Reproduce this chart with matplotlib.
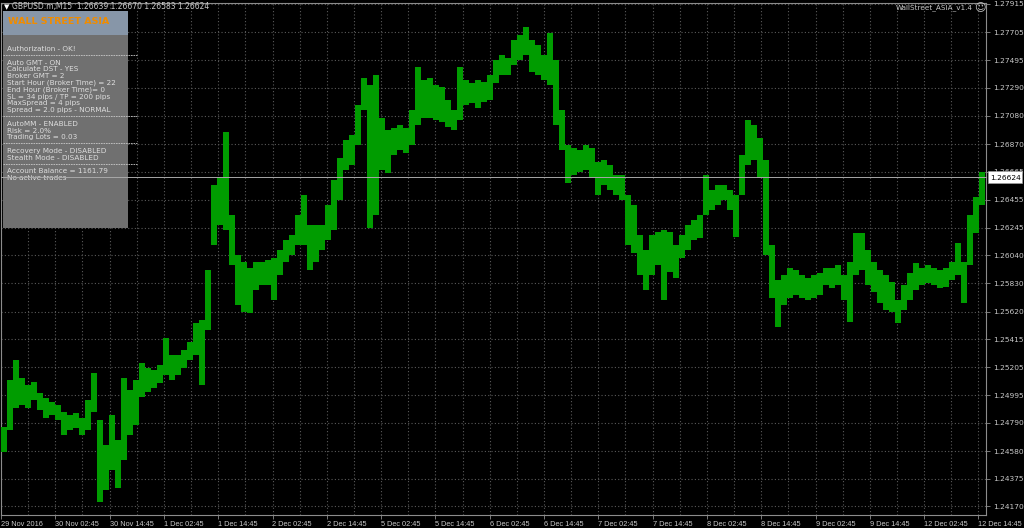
import numpy as np
import matplotlib.pyplot as plt
import matplotlib.transforms as mtransforms
from matplotlib.patches import Rectangle
from matplotlib.lines import Line2D

# GBPUSD M15, high / low per small group of bars
highs = [
    1.24760, 1.25110, 1.25259, 1.25125, 1.25073, 1.25095, 1.25014, 1.24976, 1.24946, 1.24924,
    1.24871, 1.24849, 1.24864, 1.24826, 1.24961, 1.25163, 1.24812, 1.24626, 1.24849, 1.24663,
    1.25125, 1.25036, 1.25110, 1.25237, 1.25199, 1.25185, 1.25222, 1.25423, 1.25297, 1.25297,
    1.25334, 1.25394, 1.25536, 1.25558, 1.25931, 1.26565, 1.26625, 1.26960, 1.26341, 1.26043,
    1.25990, 1.25946, 1.25990, 1.25990, 1.26005, 1.26020, 1.26080, 1.26155, 1.26192, 1.26341,
    1.26491, 1.26267, 1.26267, 1.26267, 1.26416, 1.26602, 1.26766, 1.26901, 1.26938, 1.27162,
    1.27363, 1.27311, 1.27386, 1.27064, 1.26975, 1.26990, 1.27013, 1.26990, 1.27124, 1.27445,
    1.27348, 1.27363, 1.27311, 1.27296, 1.27199, 1.27124, 1.27445, 1.27348, 1.27326, 1.27348,
    1.27333, 1.27386, 1.27497, 1.27535, 1.27512, 1.27647, 1.27684, 1.27744, 1.27647, 1.27610,
    1.27535, 1.27699, 1.27497, 1.27124, 1.26864, 1.26841, 1.26826, 1.26864, 1.26841, 1.26736,
    1.26751, 1.26714, 1.26640, 1.26640, 1.26491, 1.26416, 1.26192, 1.26080, 1.26192, 1.26214,
    1.26229, 1.26214, 1.26118, 1.26192, 1.26267, 1.26304, 1.26341, 1.26640, 1.26528, 1.26565,
    1.26565, 1.26528, 1.26491, 1.26789, 1.27050, 1.27013, 1.26915, 1.26751, 1.26118, 1.25856,
    1.25894, 1.25946, 1.25931, 1.25894, 1.25871, 1.25894, 1.25909, 1.25946, 1.25946, 1.25968,
    1.25894, 1.25990, 1.26207, 1.26207, 1.26080, 1.25990, 1.25931, 1.25894, 1.25841, 1.25707,
    1.25819, 1.25909, 1.25983, 1.25946, 1.25968, 1.25946, 1.25931, 1.25946, 1.25990, 1.26132,
    1.25990, 1.26341, 1.26476, 1.26662,
]
lows = [
    1.24573, 1.24737, 1.24901, 1.24924, 1.24901, 1.24961, 1.24886, 1.24826, 1.24849, 1.24812,
    1.24700, 1.24737, 1.24752, 1.24700, 1.24737, 1.24871, 1.24200, 1.24290, 1.24439, 1.24304,
    1.24513, 1.24700, 1.24775, 1.24984, 1.25021, 1.25050, 1.25088, 1.25148, 1.25110, 1.25148,
    1.25199, 1.25259, 1.25297, 1.25073, 1.25483, 1.26118, 1.26267, 1.26229, 1.25968, 1.25670,
    1.25617, 1.25610, 1.25782, 1.25819, 1.25819, 1.25707, 1.25894, 1.25990, 1.26043, 1.26118,
    1.26118, 1.25931, 1.25990, 1.26080, 1.26155, 1.26229, 1.26453, 1.26677, 1.26714, 1.26864,
    1.27124, 1.26244, 1.26341, 1.26677, 1.26655, 1.26789, 1.26826, 1.26804, 1.26864, 1.27013,
    1.27064, 1.27064, 1.27050, 1.27035, 1.26998, 1.26975, 1.27050, 1.27162, 1.27177, 1.27139,
    1.27184, 1.27199, 1.27326, 1.27386, 1.27386, 1.27460, 1.27497, 1.27535, 1.27408, 1.27386,
    1.27348, 1.27311, 1.27013, 1.26826, 1.26580, 1.26640, 1.26662, 1.26677, 1.26617, 1.26491,
    1.26565, 1.26528, 1.26491, 1.26453, 1.26118, 1.26058, 1.25894, 1.25782, 1.25894, 1.25968,
    1.25707, 1.25916, 1.25871, 1.26020, 1.26080, 1.26155, 1.26169, 1.26341, 1.26378, 1.26416,
    1.26453, 1.26378, 1.26177, 1.26491, 1.26714, 1.26751, 1.26617, 1.26043, 1.25722, 1.25506,
    1.25670, 1.25722, 1.25745, 1.25722, 1.25707, 1.25722, 1.25745, 1.25819, 1.25797, 1.25819,
    1.25707, 1.25543, 1.25894, 1.25931, 1.25819, 1.25767, 1.25685, 1.25632, 1.25617, 1.25536,
    1.25632, 1.25707, 1.25782, 1.25819, 1.25834, 1.25819, 1.25797, 1.25804, 1.25856, 1.25894,
    1.25685, 1.25968, 1.26207, 1.26416,
]

price_levels = [1.27915, 1.27705, 1.27495, 1.27290, 1.27080, 1.26870, 1.26665, 1.26455,
                1.26245, 1.26040, 1.25830, 1.25620, 1.25415, 1.25205, 1.24995, 1.24790,
                1.24580, 1.24375, 1.24170]

time_labels = ["29 Nov 2016", "30 Nov 02:45", "30 Nov 14:45", "1 Dec 02:45", "1 Dec 14:45",
               "2 Dec 02:45", "2 Dec 14:45", "5 Dec 02:45", "5 Dec 14:45", "6 Dec 02:45",
               "6 Dec 14:45", "7 Dec 02:45", "7 Dec 14:45", "8 Dec 02:45", "8 Dec 14:45",
               "9 Dec 02:45", "9 Dec 14:45", "12 Dec 02:45", "12 Dec 14:45"]

bid = 1.26624
header = "GBPUSD.m,M15  1.26639 1.26670 1.26583 1.26624"
ea_name = "WallStreet_ASIA_v1.4"

panel_title = "WALL STREET ASIA"
panel_blocks = [
    ["Authorization - OK!"],
    ["Auto GMT - ON", "Calculate DST - YES", "Broker GMT = 2",
     "Start Hour (Broker Time) = 22", "End Hour (Broker Time)= 0",
     "SL = 34 pips / TP = 200 pips", "MaxSpread = 4 pips", "Spread = 2.0 pips - NORMAL"],
    ["AutoMM - ENABLED", "Risk = 2.0%", "Trading Lots = 0.03"],
    ["Recovery Mode - DISABLED", "Stealth Mode - DISABLED"],
    ["Account Balance = 1161.79", "No active trades"],
]

W, H = 1024, 528
fig = plt.figure(figsize=(W / 100, H / 100), dpi=100, facecolor='black')
plt.rcParams['font.family'] = ['DejaVu Sans']

def fx(x):
    return x / W

def fy(y):
    return 1 - y / H

txt = '#c8c8c8'
grid_c = '#5a5a5a'
spine_c = '#8c8c8c'

ax = fig.add_axes([fx(1), fy(515), fx(986) - fx(1), fy(3) - fy(515)])
ax.set_facecolor('black')

idx = np.arange(len(highs))
hi = np.array(highs)
lo = np.array(lows)
ax.bar(idx, hi - lo, bottom=lo, width=1.0, color='#009c00', linewidth=0, zorder=3)

px_per_bar = 6.0
step = 54.3 / px_per_bar
major = -0.5 + step * np.arange(len(time_labels))
minor = -0.5 + step / 2 * np.arange(2 * len(time_labels) - 1)
ax.set_xticks(major)
ax.set_xticklabels(time_labels, ha='left', family='Liberation Sans')
ax.set_xticks(minor, minor=True)
ax.set_yticks(price_levels)
ax.set_yticklabels([f"{v:.5f}" for v in price_levels])
ax.yaxis.tick_right()
# limits after the ticks so they are not widened
ax.set_xlim(-0.5, -0.5 + 985 / px_per_bar)
ax.set_ylim(1.24103, 1.27922)

ax.grid(True, which='both', axis='x', color=grid_c, linestyle=(0, (1, 2)), linewidth=0.8, zorder=1)
ax.grid(True, which='major', axis='y', color=grid_c, linestyle=(0, (1, 2)), linewidth=0.8, zorder=1)
ax.set_axisbelow(True)

ax.tick_params(axis='x', which='major', colors=spine_c, labelcolor=txt, labelsize=5.3,
               length=3, width=0.6, pad=1.5)
ax.tick_params(axis='x', which='minor', length=0)
ax.tick_params(axis='y', colors=spine_c, labelcolor=txt, labelsize=5.4, length=3,
               width=0.6, pad=2)
for s in ax.spines.values():
    s.set_color(spine_c)
    s.set_linewidth(0.8)

# bid line, drawn above the info panel like in the terminal
blend = mtransforms.blended_transform_factory(fig.transFigure, ax.transData)
fig.add_artist(Line2D([fx(1), fx(986)], [bid, bid], transform=blend,
                      color='#a8a8a8', linewidth=0.7, zorder=8))

# price box on the scale
fig.add_artist(Rectangle((fx(988), fy(183)), fx(1022) - fx(988), fy(171) - fy(183),
                         transform=fig.transFigure, facecolor='white', edgecolor='#a0a0a0',
                         linewidth=0.5, zorder=9))
fig.text(fx(990), fy(177.5), f"{bid:.5f}", color='black', fontsize=5.4, va='center',
         ha='left', zorder=10)

# top texts
fig.text(fx(4), fy(7), '▼', color='white', fontsize=5, va='center', ha='left')
fig.text(fx(12), fy(7), header, color=txt, fontsize=5.5, va='center', ha='left')
fig.text(fx(973), fy(8), ea_name, color=txt, fontsize=5.2, va='center', ha='right')
fig.text(fx(980), fy(8), '☺', color=txt, fontsize=8, va='center', ha='center')

# info panel
fig.add_artist(Rectangle((fx(3), fy(228)), fx(128) - fx(3), fy(11) - fy(228),
                         transform=fig.transFigure, facecolor='#707070', edgecolor='none',
                         zorder=5))
fig.add_artist(Rectangle((fx(3), fy(35)), fx(128) - fx(3), fy(11) - fy(35),
                         transform=fig.transFigure, facecolor='#8796a8', edgecolor='none',
                         zorder=6))
fig.text(fx(8), fy(22), panel_title, color='#f08c00', fontsize=6.8, fontweight='bold',
         va='center', ha='left', zorder=7)

line_h = 6.8
y = 49
for b, block in enumerate(panel_blocks):
    for line in block:
        fig.text(fx(7), fy(y), line, color='#dedede', fontsize=5.2, va='center',
                 ha='left', zorder=7)
        y += line_h
    if b < len(panel_blocks) - 1:
        ys = y - 1
        fig.add_artist(Line2D([fx(3), fx(137)], [fy(ys), fy(ys)], transform=fig.transFigure,
                              color='#c8c8c8', linewidth=0.6, linestyle=(0, (2, 1)), zorder=7))
        y += line_h

fig.savefig('out.png', dpi=100, facecolor='black')
